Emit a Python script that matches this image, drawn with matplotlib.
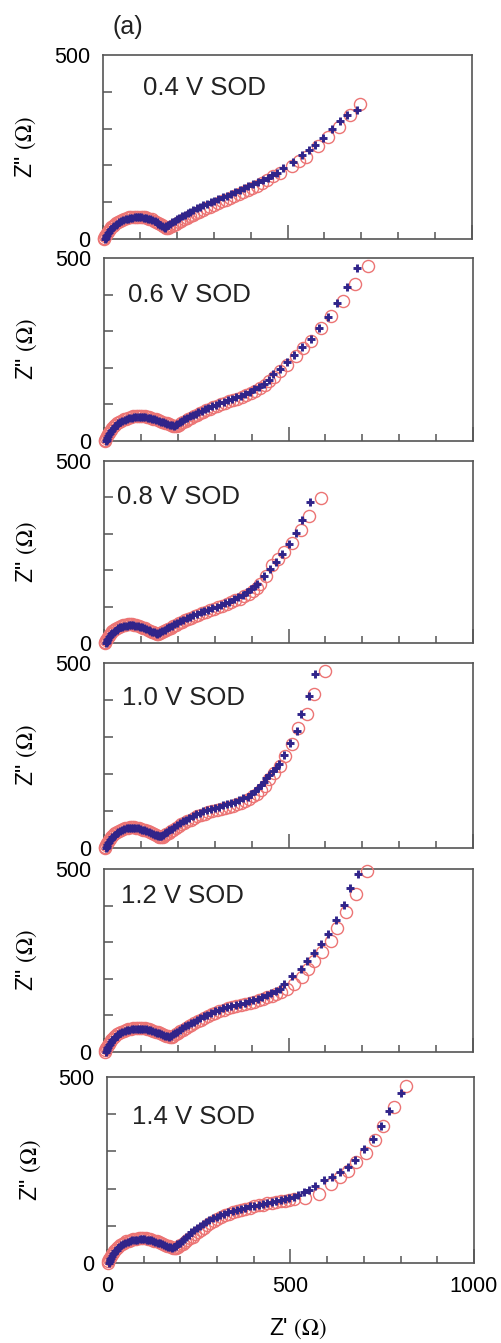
import matplotlib.pyplot as plt

plt.rcParams['font.family'] = ['Liberation Sans', 'DejaVu Sans']
plt.rcParams['mathtext.fontset'] = 'stix'

LABELS = ['0.4 V SOD', '0.6 V SOD', '0.8 V SOD', '1.0 V SOD', '1.2 V SOD', '1.4 V SOD']
# where each label sits in its panel (axes fraction)
LABEL_POS = [(0.108, 0.82), (0.065, 0.80), (0.035, 0.80), (0.05, 0.81), (0.046, 0.85), (0.068, 0.785)]

# measured data (red circles) and fit (blue crosses), Z' and Z'' in ohm
meas_04_x = [3, 4, 6, 8, 10, 13, 16, 19, 23, 27, 31, 36, 41, 46, 52, 58, 64, 70, 77, 84,
             90, 96, 102, 108, 114, 120, 126, 132, 138, 144, 149, 154, 159, 163, 167, 171,
             175, 180, 186, 192, 198, 205, 212, 219, 227, 235, 243, 252, 261, 270, 280, 290, 300, 311, 322, 333,
             344, 356, 368, 380, 392, 405, 418, 431, 444,
             462, 480, 512, 531, 551, 584, 611, 639, 670, 696]
meas_04_y = [0, 4, 8, 12, 16, 20, 24, 28, 32, 36, 39, 43, 46, 49, 52, 55, 57, 59, 60, 61,
             61, 61, 61, 60, 59, 57, 55, 53, 50, 47, 44, 41, 38, 35, 32, 30,
             30, 32, 35, 39, 42, 46, 50, 54, 58, 62, 66, 70, 74, 79, 83, 88, 92, 97, 102, 107,
             112, 117, 122, 128, 133, 139, 145, 152, 160,
             170, 180, 198, 211, 224, 253, 278, 305, 337, 366]
fit_04_x = [6, 7, 9, 11, 13, 16, 19, 22, 26, 30, 34, 39, 44, 49, 55, 61, 67, 73, 79, 86,
            92, 98, 104, 110, 116, 122, 128, 134, 140, 145, 150, 155, 160, 164, 168,
            172, 177, 182, 188, 194, 200, 207, 214, 221, 229, 237, 245, 254, 263, 272, 282, 292, 302, 313, 324,
            335, 346, 358, 370, 382, 394, 407, 420, 433, 446, 459, 471,
            489, 516, 539, 557, 575, 596, 620, 643, 662, 687]
fit_04_y = [0, 4, 8, 12, 16, 20, 24, 28, 32, 35, 38, 42, 45, 48, 51, 53, 55, 57, 58, 59,
            59, 59, 59, 58, 57, 55, 53, 51, 48, 45, 42, 39, 36, 33, 31,
            34, 38, 42, 46, 50, 54, 58, 62, 66, 70, 74, 78, 83, 88, 92, 96, 100, 104, 109, 114,
            118, 123, 128, 133, 138, 143, 149, 155, 161, 167, 173, 180,
            192, 210, 228, 242, 256, 274, 298, 322, 337, 351]

meas_06_x = [3, 4, 6, 8, 10, 13, 16, 19, 23, 27, 31, 36, 41, 47, 53, 59, 65, 72, 79, 86,
             92, 98, 104, 110, 116, 122, 128, 134, 140, 146, 152, 158, 164, 170, 176, 182, 187, 192,
             197, 202, 208, 214, 221, 228, 235, 243, 251, 259, 268, 277, 286, 296, 306, 316, 327, 338, 349, 361,
             373, 385, 398, 410, 423, 436, 448,
             460, 478, 496, 519, 540, 560, 587, 614, 649, 679, 716]
meas_06_y = [0, 4, 9, 13, 18, 22, 27, 31, 36, 40, 44, 48, 52, 56, 59, 61, 63, 65, 67, 68,
             68, 68, 68, 67, 66, 65, 63, 61, 59, 57, 54, 52, 50, 48, 46, 44, 42, 41,
             42, 45, 48, 52, 56, 60, 64, 68, 72, 76, 80, 84, 88, 92, 96, 100, 104, 108, 112, 116,
             120, 125, 131, 137, 144, 153, 163,
             175, 190, 207, 233, 253, 274, 309, 342, 383, 428, 478]
fit_06_x = [6, 7, 9, 11, 13, 16, 19, 22, 26, 30, 34, 39, 44, 50, 56, 62, 68, 75, 82, 88,
            94, 100, 106, 112, 118, 124, 130, 136, 142, 148, 154, 160, 166, 172, 178, 184, 189,
            194, 199, 205, 211, 218, 225, 232, 240, 248, 256, 265, 274, 283, 293, 303, 313, 324, 335, 346, 358,
            370, 382, 395, 407, 420, 433, 446,
            458, 478, 496, 514, 537, 560, 582, 608, 632, 658, 685]
fit_06_y = [0, 4, 9, 13, 18, 22, 27, 31, 36, 40, 44, 48, 52, 55, 58, 60, 62, 64, 65, 66,
            66, 66, 66, 65, 64, 63, 61, 59, 57, 55, 53, 51, 49, 47, 45, 43, 42,
            44, 47, 51, 55, 59, 63, 67, 71, 75, 79, 83, 87, 91, 95, 99, 103, 107, 111, 115, 119,
            124, 129, 135, 141, 148, 157, 168,
            182, 197, 215, 234, 256, 279, 309, 338, 378, 421, 474]

meas_08_x = [3, 4, 6, 8, 10, 13, 16, 19, 23, 27, 31, 36, 41, 46, 52, 58, 64, 70, 76, 82,
             88, 94, 100, 106, 112, 118, 124, 129, 134, 139, 143, 147,
             152, 157, 162, 168, 174, 181, 188, 195, 203, 211, 219, 228, 237, 246, 256, 266, 276, 287, 298, 309,
             320, 332, 344, 356, 368, 380, 392, 404, 415,
             424, 440, 456, 472, 487, 510, 533, 555, 587]
meas_08_y = [0, 4, 8, 12, 16, 20, 24, 28, 32, 35, 38, 41, 44, 47, 49, 50, 51, 51, 51, 50,
             49, 47, 45, 42, 40, 37, 34, 31, 29, 27, 26, 26,
             27, 29, 32, 35, 38, 42, 46, 50, 54, 58, 62, 66, 70, 74, 78, 82, 86, 90, 94, 98,
             102, 107, 112, 117, 122, 128, 134, 142, 151,
             163, 185, 213, 232, 249, 275, 311, 349, 399]
fit_08_x = [6, 7, 9, 11, 13, 16, 19, 22, 26, 30, 34, 39, 44, 49, 55, 61, 67, 73, 79, 85,
            91, 97, 103, 109, 115, 121, 126, 131, 136, 140, 144,
            148, 153, 158, 164, 170, 177, 184, 191, 199, 207, 215, 224, 233, 242, 252, 262, 272, 283, 294, 305,
            316, 328, 340, 352, 364, 376, 388, 398, 408,
            415, 433, 451, 465, 483, 501, 519, 537, 558]
fit_08_y = [0, 4, 8, 12, 16, 20, 24, 28, 31, 34, 37, 40, 43, 45, 47, 48, 49, 49, 49, 48,
            47, 45, 43, 41, 38, 35, 33, 31, 29, 27, 26,
            27, 30, 33, 37, 40, 44, 48, 52, 56, 60, 64, 68, 72, 76, 80, 84, 88, 92, 96, 100,
            104, 109, 114, 120, 126, 133, 140, 148, 156,
            163, 184, 204, 222, 245, 272, 303, 339, 386]

meas_10_x = [3, 4, 6, 8, 10, 13, 16, 19, 23, 27, 31, 36, 41, 46, 52, 58, 64, 70, 76, 82,
             88, 94, 100, 106, 112, 118, 124, 130, 136, 141, 146, 150, 154,
             159, 164, 169, 175, 181, 188, 195, 202, 210, 218, 226, 235, 244, 253, 263, 273, 283, 294, 305, 316,
             327, 338, 349, 360, 371, 382, 393, 404, 414, 425, 436,
             447, 462, 478, 490, 510, 525, 549, 569, 599]
meas_10_y = [0, 4, 9, 13, 17, 21, 25, 29, 33, 37, 40, 44, 47, 50, 52, 54, 55, 56, 56, 56,
             55, 54, 52, 50, 48, 45, 42, 40, 37, 35, 33, 31, 30,
             31, 34, 37, 41, 45, 49, 54, 59, 64, 68, 73, 77, 82, 86, 90, 93, 96, 99, 102, 105,
             108, 111, 114, 118, 122, 127, 133, 140, 147, 156, 167,
             186, 203, 222, 249, 281, 323, 362, 417, 478]
fit_10_x = [6, 7, 9, 11, 13, 16, 19, 22, 26, 30, 34, 39, 44, 49, 55, 61, 67, 73, 79, 85,
            91, 97, 103, 109, 115, 121, 127, 133, 138, 143, 147, 151,
            155, 160, 165, 171, 177, 184, 191, 198, 206, 214, 222, 231, 240, 249, 259, 269, 279, 290, 301, 312,
            323, 334, 345, 356, 367, 378, 389, 399, 409, 418, 426, 433, 440,
            447, 457, 466, 474, 487, 505, 522, 535, 555, 573]
fit_10_y = [0, 4, 9, 13, 17, 21, 25, 29, 33, 36, 40, 43, 46, 49, 51, 53, 54, 54, 54, 54,
            53, 52, 50, 48, 46, 43, 41, 38, 36, 34, 33, 32,
            33, 36, 40, 44, 48, 52, 57, 62, 67, 72, 77, 82, 87, 91, 95, 99, 102, 106, 109, 112,
            115, 118, 121, 125, 129, 134, 139, 146, 153, 161, 170, 179, 188,
            198, 208, 216, 226, 252, 283, 317, 362, 410, 471]

meas_12_x = [3, 4, 6, 8, 10, 13, 16, 19, 23, 27, 31, 36, 41, 47, 53, 59, 65, 72, 79, 86,
             92, 98, 104, 110, 116, 122, 128, 134, 140, 146, 152, 158, 163, 168, 173, 178,
             183, 188, 194, 200, 207, 214, 221, 229, 237, 245, 254, 263, 272, 282, 292, 302, 313, 324, 335, 347,
             359, 371, 383, 395, 407, 419, 431, 443, 455, 467, 481,
             496, 515, 537, 552, 569, 592, 614, 632, 657, 682, 714]
meas_12_y = [0, 5, 10, 14, 19, 23, 28, 32, 36, 40, 44, 48, 52, 55, 58, 60, 62, 64, 65, 66,
             66, 66, 66, 65, 64, 62, 60, 58, 56, 54, 52, 49, 47, 45, 43, 41,
             42, 45, 49, 53, 57, 61, 66, 70, 75, 79, 84, 88, 93, 98, 103, 107, 112, 116, 119, 122,
             125, 128, 131, 134, 137, 141, 145, 149, 154, 159, 165,
             172, 186, 204, 227, 249, 274, 303, 340, 383, 433, 494]
fit_12_x = [6, 7, 9, 11, 13, 16, 19, 22, 26, 30, 34, 39, 44, 50, 56, 62, 68, 75, 82, 89,
            95, 101, 107, 113, 119, 125, 131, 137, 143, 149, 155, 161, 166, 171, 176,
            181, 186, 192, 198, 205, 212, 219, 227, 235, 243, 252, 261, 270, 280, 290, 300, 311, 322, 333, 345,
            357, 369, 381, 393, 405, 417, 429, 441, 453, 465, 476,
            487, 510, 533, 551, 569, 587, 608, 630, 650, 667, 689]
fit_12_y = [0, 5, 10, 14, 19, 23, 28, 32, 36, 40, 44, 48, 51, 54, 57, 59, 61, 62, 63, 64,
            64, 64, 63, 62, 61, 59, 57, 55, 53, 51, 49, 47, 45, 43, 42,
            44, 48, 52, 56, 61, 65, 70, 74, 79, 83, 88, 92, 97, 102, 107, 112, 116, 120, 123, 126,
            129, 132, 135, 138, 142, 146, 150, 155, 160, 166, 172,
            187, 209, 226, 249, 270, 294, 323, 360, 403, 448, 486]

meas_14_x = [3, 4, 6, 8, 10, 13, 16, 19, 23, 27, 31, 36, 41, 47, 53, 59, 65, 72, 79, 86,
             93, 99, 105, 111, 117, 123, 129, 135, 141, 147, 153, 159, 164, 169, 174, 179, 184,
             189, 194, 200, 206, 212, 219, 226, 233, 240, 248, 256, 264, 273, 282, 291, 301, 311, 321, 332, 343,
             354, 365, 377, 389, 401, 413, 425, 437, 449, 461, 473, 485, 497, 509,
             540, 578, 610, 635, 656, 679, 706, 729, 752, 782, 816]
meas_14_y = [0, 5, 10, 14, 19, 23, 28, 32, 36, 40, 44, 48, 52, 55, 58, 60, 62, 64, 65, 66,
             66, 66, 66, 65, 64, 62, 60, 58, 56, 54, 52, 49, 47, 45, 43, 41, 40,
             41, 44, 48, 52, 56, 61, 66, 71, 77, 83, 89, 95, 101, 107, 112, 118, 123, 128, 132, 136,
             140, 143, 146, 149, 152, 155, 157, 160, 162, 164, 166, 168, 170, 172,
             176, 186, 213, 232, 246, 271, 297, 330, 368, 420, 477]
fit_14_x = [6, 7, 9, 11, 13, 16, 19, 22, 26, 30, 34, 39, 44, 50, 56, 62, 68, 75, 82, 89,
            96, 102, 108, 114, 120, 126, 132, 138, 144, 150, 156, 162, 167, 172, 177,
            182, 187, 192, 198, 204, 210, 216, 223, 230, 237, 245, 253, 261, 270, 279, 289, 299, 309, 320, 331,
            342, 353, 365, 377, 389, 401, 413, 425, 437, 449, 461, 473, 485, 497, 509, 521,
            537, 550, 568, 591, 614, 635, 656, 677, 699, 725, 746, 769, 801]
fit_14_y = [0, 5, 10, 14, 19, 23, 28, 32, 36, 40, 44, 48, 51, 54, 57, 59, 61, 62, 63, 64,
            64, 64, 63, 62, 61, 59, 57, 55, 53, 51, 49, 46, 44, 42, 41,
            43, 47, 51, 55, 60, 65, 70, 76, 82, 88, 94, 100, 105, 110, 115, 120, 125, 129, 133, 137,
            140, 143, 146, 149, 152, 154, 156, 159, 161, 164, 166, 169, 172, 175, 178, 182,
            190, 195, 206, 222, 231, 244, 258, 278, 306, 333, 368, 408, 458]

MEAS = [(meas_04_x, meas_04_y), (meas_06_x, meas_06_y), (meas_08_x, meas_08_y),
        (meas_10_x, meas_10_y), (meas_12_x, meas_12_y), (meas_14_x, meas_14_y)]
FIT = [(fit_04_x, fit_04_y), (fit_06_x, fit_06_y), (fit_08_x, fit_08_y),
       (fit_10_x, fit_10_y), (fit_12_x, fit_12_y), (fit_14_x, fit_14_y)]

# panel boxes in pixels: left, right, top, bottom
BOXES = [(103, 472, 55, 239), (104, 473, 258, 441), (104, 473, 461, 643),
         (104, 473, 663, 848), (104, 473, 869, 1052), (107, 474, 1077, 1263)]

W, H = 502, 1343
fig = plt.figure(figsize=(W / 100, H / 100), dpi=100)

for i, (l, r, t, b) in enumerate(BOXES):
    ax = fig.add_axes([l / W, 1 - b / H, (r - l) / W, (b - t) / H])
    mx, my = MEAS[i]
    fx, fy = FIT[i]
    ax.plot(mx, my, 'o', ms=8.7, mfc='none', mec='#ec7474', mew=1.0, clip_on=False, zorder=3)
    ax.plot(fx, fy, '+', ms=6, color='#30248a', mew=2.1, clip_on=False, zorder=4)
    ax.set_xlim(0, 1000)
    ax.set_ylim(0, 500)
    ax.set_xticks([0, 500, 1000])
    ax.set_xticks(range(0, 1001, 100), minor=True)
    ax.set_yticks([0, 500])
    ax.set_yticks(range(100, 500, 100), minor=True)
    ax.tick_params(axis='x', which='major', direction='in', length=10, width=1.1,
                   color='#555555', labelsize=15.5, pad=9)
    ax.tick_params(axis='x', which='minor', direction='in', length=5, width=1.1, color='#555555')
    ax.tick_params(axis='y', which='major', direction='in', length=0, labelsize=15.5, pad=9)
    ax.tick_params(axis='y', which='minor', direction='in', length=6.5, width=1.1, color='#555555')
    for s in ax.spines.values():
        s.set_color('#555555')
        s.set_linewidth(1.2)
    if i < 5:
        ax.tick_params(axis='x', labelbottom=False)
    ax.set_ylabel('Z" $(\\Omega)$', fontsize=16.5)
    ax.yaxis.set_label_coords(-0.175, 0.5)
    lx, ly = LABEL_POS[i]
    ax.text(lx, ly, LABELS[i], transform=ax.transAxes, fontsize=18.5, va='center', ha='left',
            color='#222222')

ax.set_xlabel("Z' $(\\Omega)$", fontsize=16.5)
ax.xaxis.set_label_coords(0.52, -0.29)

fig.text(128 / W, 1 - 27 / H, '(a)', fontsize=18, ha='center', va='center', color='#222222')

fig.savefig('out.png', dpi=100)
